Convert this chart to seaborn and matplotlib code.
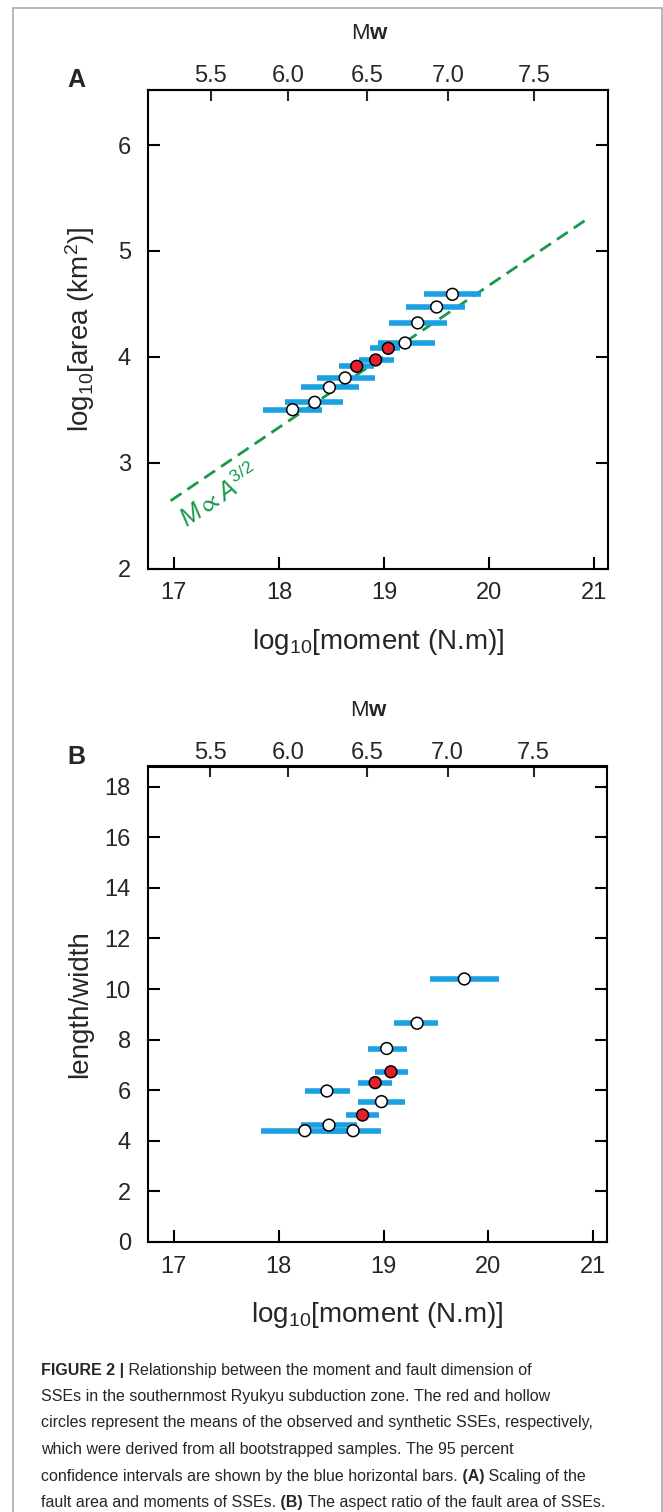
import matplotlib
matplotlib.use("Agg")
import matplotlib.pyplot as plt
import seaborn as sns
import pandas as pd
from matplotlib.patches import Rectangle
from matplotlib import font_manager

sns.set_theme(style="ticks")
plt.rcParams["font.family"] = ["Liberation Sans", "DejaVu Sans"]
plt.rcParams["mathtext.fontset"] = "custom"
plt.rcParams["mathtext.rm"] = "Liberation Sans"
plt.rcParams["mathtext.it"] = "Liberation Sans:italic"
plt.rcParams["mathtext.bf"] = "Liberation Sans:bold"
plt.rcParams["mathtext.fallback"] = "stixsans"
plt.rcParams["axes.linewidth"] = 1.5
plt.rcParams["axes.edgecolor"] = "black"

# ---- data: panel A (area vs moment) ----
a_moment = [19.65, 19.50, 19.32, 19.20, 18.63, 18.48, 18.34, 18.13, 19.04, 18.92, 18.74]
a_area = [4.59, 4.47, 4.32, 4.13, 3.80, 3.71, 3.57, 3.50, 4.08, 3.97, 3.91]
a_lo = [19.38, 19.21, 19.05, 18.94, 18.36, 18.21, 18.06, 17.85, 18.87, 18.76, 18.57]
a_hi = [19.92, 19.77, 19.60, 19.48, 18.91, 18.76, 18.61, 18.41, 19.15, 19.09, 18.90]
a_type = ["synthetic"] * 8 + ["observed"] * 3

# scaling line M ~ A^(3/2)
line_x = [16.97, 20.93]
line_y = [2.64, 5.30]

# ---- data: panel B (aspect ratio vs moment) ----
b_moment = [19.77, 19.32, 19.03, 18.46, 18.98, 18.48, 18.25, 18.71, 19.07, 18.92, 18.80]
b_ratio = [10.40, 8.65, 7.65, 5.97, 5.55, 4.62, 4.40, 4.40, 6.73, 6.30, 5.02]
b_lo = [19.44, 19.10, 18.85, 18.25, 18.76, 18.21, 17.83, 18.40, 18.92, 18.76, 18.64]
b_hi = [20.10, 19.52, 19.22, 18.68, 19.20, 18.75, 18.70, 18.98, 19.23, 19.08, 18.96]
b_type = ["synthetic"] * 8 + ["observed"] * 3

# top axis (Mw) ticks, placed where the reference draws them
mw_pos = [17.35, 18.09, 18.84, 19.61, 20.43]
mw_lab = ["5.5", "6.0", "6.5", "7.0", "7.5"]

df_a = pd.DataFrame({"moment": a_moment, "value": a_area, "lo": a_lo, "hi": a_hi, "type": a_type})
df_b = pd.DataFrame({"moment": b_moment, "value": b_ratio, "lo": b_lo, "hi": b_hi, "type": b_type})

BLUE = "#1ba1e2"
RED = "#e3202b"
GREEN = "#17994a"

W, H = 663, 1512
fig = plt.figure(figsize=(W / 100, H / 100), dpi=100)


def px_axes(left, top, right, bottom):
    return fig.add_axes([left / W, 1 - bottom / H, (right - left) / W, (bottom - top) / H])


def panel(ax, df, xlim, ylim, yticks, ylabel):
    ax.hlines(df["value"], df["lo"], df["hi"], color=BLUE, lw=4, zorder=2)
    sns.scatterplot(data=df, x="moment", y="value", hue="type", ax=ax,
                    palette={"synthetic": "white", "observed": RED},
                    edgecolor="black", linewidth=1.1, s=72, legend=False, zorder=3)
    ax.set_xlim(*xlim)
    ax.set_ylim(*ylim)
    ax.set_xticks([17, 18, 19, 20, 21])
    ax.set_yticks(yticks)
    ax.tick_params(direction="in", length=8.5, width=1.5, labelsize=17,
                   top=False, right=True, color="black")
    ax.tick_params(axis="x", pad=10)
    ax.tick_params(axis="y", pad=12)
    ax.set_xlabel(r"log$_{10}$[moment (N.m)]", fontsize=20)
    ax.xaxis.set_label_coords(0.5, -73.5 / ax.bbox.height)
    ax.xaxis.label.set_va("center")
    ax.set_ylabel(ylabel, fontsize=20)
    ax.yaxis.set_label_coords(-67.5 / ax.bbox.width, 0.5)
    ax.yaxis.label.set_va("center")
    sec = ax.secondary_xaxis("top")
    sec.set_xticks(mw_pos, labels=mw_lab)
    sec.tick_params(direction="in", length=8, width=1.5, labelsize=17, pad=2)
    ax.text(0.483, 1 + 56.5 / ax.bbox.height, r"M$\mathbf{w}$", transform=ax.transAxes,
            fontsize=16, ha="center", va="center")


# ---- panel A ----
ax1 = px_axes(147.5, 90, 608, 568.5)
panel(ax1, df_a, (16.75, 21.13), (2, 6.52), [2, 3, 4, 5, 6], r"log$_{10}$[area (km$^{2}$)]")
ax1.plot(line_x, line_y, color=GREEN, lw=2, ls=(0, (4.7, 2.6)), zorder=1)
ax1.text(17.43, 2.68, r"$M \propto A^{3/2}$", color=GREEN, fontsize=18, rotation=34,
         ha="center", va="center")

# ---- panel B ----
ax2 = px_axes(147.5, 766.5, 607, 1242)
panel(ax2, df_b, (16.75, 21.13), (0, 18.8), list(range(0, 19, 2)), "length/width")

fig.text(76 / W, 1 - 80 / H, "A", fontsize=18, fontweight="bold", ha="center", va="center")
fig.text(76 / W, 1 - 757 / H, "B", fontsize=18, fontweight="bold", ha="center", va="center")

# thin grey frame of the figure page
fig.patches.append(Rectangle((13 / W, -0.05), (662 - 13) / W, 1.05 - 8 / H,
                             transform=fig.transFigure, fill=False,
                             edgecolor="#aaaaaa", lw=1.2))

# ---- caption ----
names = {f.name for f in font_manager.fontManager.ttflist}
cap_family = ["Liberation Sans Narrow"] if "Liberation Sans Narrow" in names else ["Liberation Sans"]

caption = [
    [("FIGURE 2 |", "bold"), (" Relationship between the moment and fault dimension of", "normal")],
    [("SSEs in the southernmost Ryukyu subduction zone. The red and hollow", "normal")],
    [("circles represent the means of the observed and synthetic SSEs, respectively,", "normal")],
    [("which were derived from all bootstrapped samples. The 95 percent", "normal")],
    [("confidence intervals are shown by the blue horizontal bars.", "normal"), (" (A)", "bold"),
     (" Scaling of the", "normal")],
    [("fault area and moments of SSEs.", "normal"), (" (B)", "bold"),
     (" The aspect ratio of the fault area of SSEs.", "normal")],
]

renderer = fig.canvas.get_renderer()


def text_width(s, size, weight):
    t = fig.text(0, 0, s.replace(" ", "\u00a0"), fontsize=size, fontweight=weight, family=cap_family)
    w = t.get_window_extent(renderer).width
    t.remove()
    return w


# choose the caption size so the longest line spans the text column
ref_w = text_width(caption[2][0][0], 10, "normal")
cap_size = 10 * 551 / ref_w

for i, runs in enumerate(caption):
    x = 41
    y = 1370 + i * 26.5
    for s, weight in runs:
        s = s.replace(" ", "\u00a0")
        t = fig.text(x / W, 1 - y / H, s, fontsize=cap_size, fontweight=weight,
                     family=cap_family, ha="left", va="center")
        x += t.get_window_extent(renderer).width

fig.savefig("out.png", dpi=100)
